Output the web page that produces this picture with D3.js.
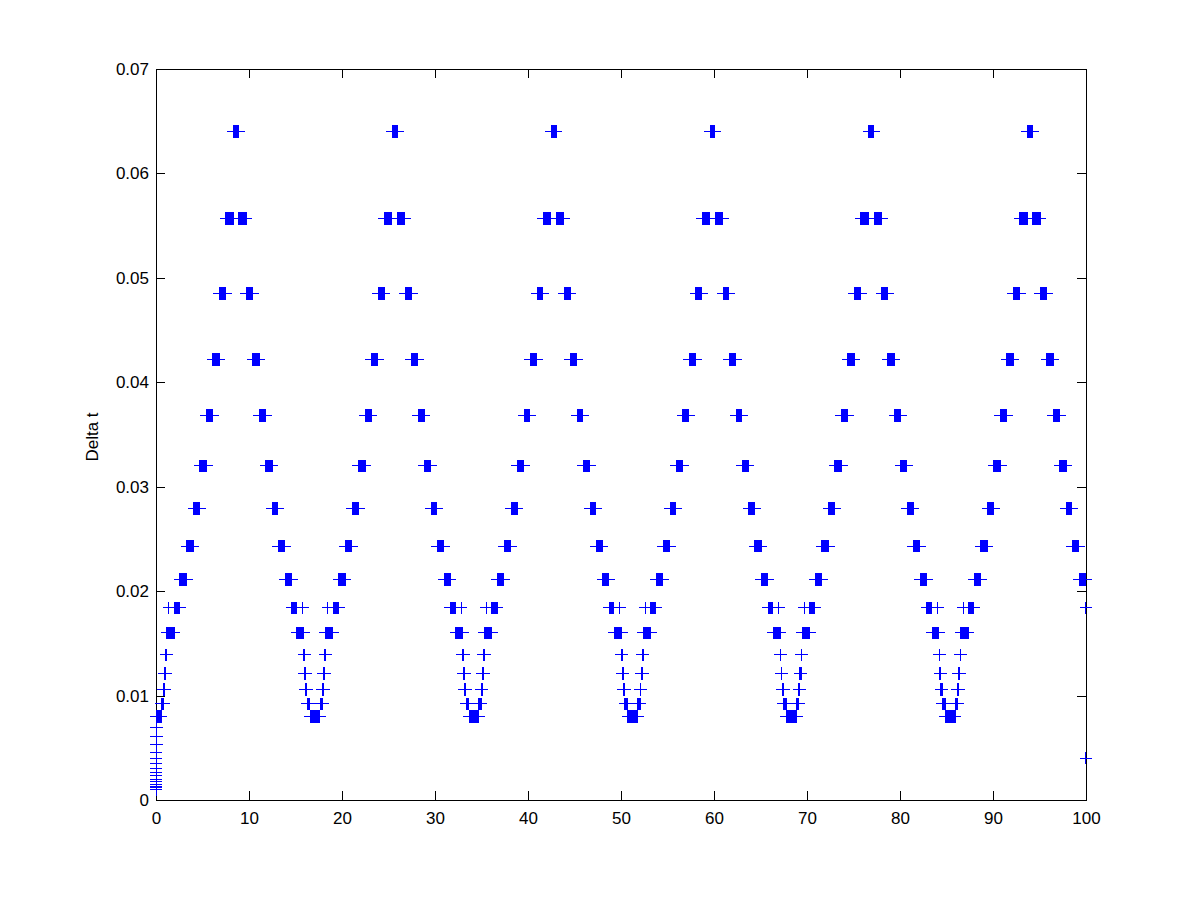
<!DOCTYPE html>
<html><head><meta charset="utf-8">
<script src="https://cdn.jsdelivr.net/npm/d3@7"></script>
<style>
body{margin:0;background:#fff}
text{font-family:"Liberation Sans",Arial,Helvetica,sans-serif;fill:#000}
</style>
</head><body>
<svg id="chart" width="1201" height="900"></svg>
<script>
// ---- data ----
const xTicks = [0, 10, 20, 30, 40, 50, 60, 70, 80, 90, 100];
const xTickLabels = ["0", "10", "20", "30", "40", "50", "60", "70", "80", "90", "100"];
const yTicks = [0, 0.01, 0.02, 0.03, 0.04, 0.05, 0.06, 0.07];
const yTickLabels = ["0", "0.01", "0.02", "0.03", "0.04", "0.05", "0.06", "0.07"];
const yLabel = "Delta t";

// step-size levels seen as rows of markers
const levels = [0.0080, 0.0092, 0.0106, 0.0121, 0.0139, 0.0160, 0.0184, 0.0211,
                0.0243, 0.0279, 0.0320, 0.0368, 0.0422, 0.0485, 0.0557, 0.0640];

// start-up ramp at t = 0 (one step per value)
const startupDt = [0.00100, 0.00115, 0.00132, 0.00152, 0.00174, 0.00200, 0.00230, 0.00264,
                   0.00303, 0.00348, 0.00400, 0.00459, 0.00528, 0.00606, 0.00696];

// centres of the low-step dips (t)
const minima = [0.03, 17.11, 34.18, 51.26, 68.33, 85.41];

// runs of equal step inside one cycle: level index, first t, last t (relative to the dip)
const runLevel = [0, 1, 2, 3, 4, 5, 6, 5, 6, 7, 8, 9, 10, 11, 12, 13, 14, 15,
                  14, 13, 12, 11, 10, 9, 8, 7, 6, 5, 6, 5, 4, 3, 2, 1];
const runFrom  = [-0.516, 0.538, 0.796, 0.892, 1.043, 1.140, 1.366, 1.387, 1.925, 2.548, 3.280, 4.032,
                  4.677, 5.398, 6.075, 6.796, 7.473, 8.323, 8.882, 9.720, 10.376, 11.108, 11.774,
                  12.495, 13.140, 13.871, 14.570, 15.129, 15.699, 15.720, 15.871, 15.957, 16.065, 16.226];
const runTo    = [0.527, 0.785, 0.882, 1.032, 1.129, 1.344, 1.366, 1.914, 2.495, 3.226, 3.968, 4.645,
                  5.366, 6.011, 6.763, 7.419, 8.280, 8.839, 9.677, 10.344, 11.065, 11.742, 12.430,
                  13.086, 13.806, 14.516, 15.075, 15.677, 15.699, 15.849, 15.935, 16.043, 16.194, 16.516];

// last steps that land on t = 100
const endT  = [99.978, 99.996];
const endDt = [0.0184, 0.0040];

// ---- build the (t, dt) points ----
const points = [];
let t0 = 0;
startupDt.forEach(d => { points.push({t: t0, dt: d}); t0 += d; });
const tMin = t0, tMax = 99.96;
minima.forEach(m => {
  runLevel.forEach((li, i) => {
    const d = levels[li];
    const a = m + runFrom[i], b = m + runTo[i];
    const n = Math.max(1, Math.round((b - a) / d) + 1);
    for (let k = 0; k < n; k++) {
      const t = a + k * d;
      if (t >= tMin && t <= tMax) points.push({t, dt: d});
    }
  });
});
endT.forEach((t, i) => points.push({t, dt: endDt[i]}));

// ---- drawing ----
const svg = d3.select("#chart");
const L = 156, R = 1086, T = 69, B = 800;
const x = d3.scaleLinear().domain([0, 100]).range([L, R]);
const y = d3.scaleLinear().domain([0, 0.07]).range([B, T]);
const tickLen = 9;
const fs = 17;

svg.append("rect").attr("width", 1201).attr("height", 900).attr("fill", "#fff");

// axes (inward ticks on all sides, MATLAB box)
const gx = svg.append("g").attr("transform", `translate(0,${B})`)
  .call(d3.axisBottom(x).tickValues(xTicks).tickSize(-tickLen).tickPadding(12)
        .tickFormat((d, i) => xTickLabels[i]));
const gxt = svg.append("g").attr("transform", `translate(0,${T})`)
  .call(d3.axisTop(x).tickValues(xTicks).tickSize(-tickLen).tickFormat(""));
const gy = svg.append("g").attr("transform", `translate(${L},0)`)
  .call(d3.axisLeft(y).tickValues(yTicks).tickSize(-tickLen).tickPadding(7)
        .tickFormat((d, i) => yTickLabels[i]));
const gyr = svg.append("g").attr("transform", `translate(${R},0)`)
  .call(d3.axisRight(y).tickValues(yTicks).tickSize(-tickLen).tickFormat(""));

[gx, gxt, gy, gyr].forEach(g => {
  g.select(".domain").remove();
  g.selectAll("line").attr("stroke", "#000").attr("stroke-width", 1).attr("shape-rendering", "crispEdges");
  g.selectAll("text").attr("font-size", fs).attr("font-family", "Liberation Sans, Arial, sans-serif").attr("fill", "#000");
});
gx.selectAll("text").attr("dy", "0.71em");

svg.append("rect").attr("x", L).attr("y", T).attr("width", R - L).attr("height", B - T)
  .attr("fill", "none").attr("stroke", "#000").attr("stroke-width", 1).attr("shape-rendering", "crispEdges");

svg.append("text").attr("transform", `translate(98,437) rotate(-90)`)
  .attr("text-anchor", "middle").attr("font-size", fs).text(yLabel);

// '+' markers
const h = 6.25;
svg.append("g").attr("class", "markers")
  .selectAll("path").data(points).join("path")
  .attr("d", `M${-h},0H${h}M0,${-h}V${h}`)
  .attr("transform", d => `translate(${x(d.t)},${y(d.dt)})`)
  .attr("fill", "none").attr("stroke", "#0000ff").attr("stroke-width", 1)
  .attr("shape-rendering", "crispEdges");
</script>
</body></html>
